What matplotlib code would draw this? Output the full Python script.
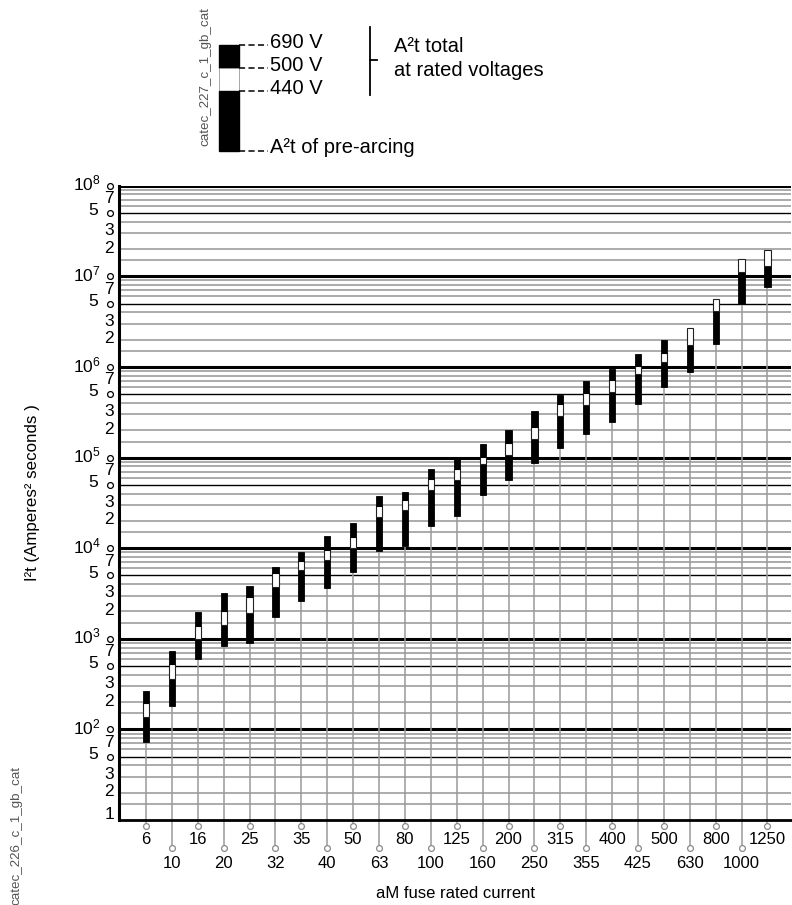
import numpy as np
import matplotlib.pyplot as plt
from matplotlib.patches import Rectangle
from matplotlib.transforms import blended_transform_factory

plt.rcParams['font.family'] = ['Liberation Sans', 'DejaVu Sans']
plt.rcParams['mathtext.fontset'] = 'custom'
plt.rcParams['mathtext.rm'] = 'Liberation Sans'
plt.rcParams['mathtext.default'] = 'regular'

# aM fuse ratings and I2t values (A2s)
ratings = ['6', '10', '16', '20', '25', '32', '35', '40', '50', '63', '80', '100', '125',
           '160', '200', '250', '315', '355', '400', '425', '500', '630', '800', '1000', '1250']
pre_arcing = [73, 181, 595, 840, 905, 1754, 2630, 3640, 5420, 9380, 10570, 17580, 22650,
              38650, 56600, 86500, 128500, 182000, 249000, 387000, 597000, 887000,
              1.796e6, 4.92e6, 7.64e6]
total_440v = [138, 363, 988, 1419, 1911, 3756, 5700, 7410, 9980, 22260, 26400, 43800, 56700,
              85000, 106800, 159300, 287800, 381000, 526000, 837000, 1.135e6, 1.75e6,
              4.19e6, 1.127e7, 1.31e7]
total_500v = [194, 527, 1384, 2027, 2915, 5360, 7270, 9550, 13400, 29400, 34050, 57600, 74300,
              102400, 146000, 216000, 390700, 513000, 719000, 1.026e6, 1.415e6, 2.67e6,
              5.68e6, 1.545e7, 1.94e7]
total_690v = [265, 739, 1990, 3177, 3855, 6150, 9150, 13740, 18840, 37950, 41400, 74800, 100700,
              141300, 201800, 329600, 487600, 700000, 957000, 1.39e6, 2.0e6,
              None, None, None, None]

decades = [10, 100, 1000, 1e4, 1e5, 1e6, 1e7, 1e8]
decade_labels = ['', '$10^2$', '$10^3$', '$10^4$', '$10^5$', '$10^6$', '$10^7$', '$10^8$']
minor_mult = [1.5, 2, 3, 4, 5, 6, 7, 8, 9]

W, H = 792, 905
fig = plt.figure(figsize=(W / 100, H / 100), dpi=100)
ax = fig.add_axes([118.7 / W, 1 - 820 / H, (791 - 118.7) / W, (820 - 185.7) / H])
ax.set_yscale('log')
ax.set_ylim(10, 1e8)
ax.set_xlim(-1.054, 24.91)
ax.set_xticks([])
ax.set_yticks([])
ax.minorticks_off()
for s in ['top', 'right']:
    ax.spines[s].set_visible(False)
ax.spines['left'].set_linewidth(2.2)
ax.spines['bottom'].set_linewidth(2.0)

# grid
for d in decades:
    if d > 10:
        ax.axhline(d, color='black', lw=2.2, zorder=1)
    if d < 1e8:
        for m in minor_mult:
            if m == 5:
                ax.axhline(d * m, color='black', lw=1.0, zorder=1)
            else:
                ax.axhline(d * m, color='#a5a5a5', lw=1.3, zorder=0.9)

# y labels and circles
ty = blended_transform_factory(ax.transAxes, ax.transData)
fs = 12.5
for d, lab in zip(decades, decade_labels):
    if d > 10:
        ax.plot(-0.0129, d, 'o', ms=4.2, mfc='white', mec='black', mew=0.9,
                transform=ty, clip_on=False, zorder=5)
        ax.text(-0.0263, d * 1.05, lab, transform=ty, ha='right', va='center', fontsize=fs)
    if d < 1e8:
        ax.plot(-0.0129, d * 5, 'o', ms=4.2, mfc='white', mec='black', mew=0.9,
                transform=ty, clip_on=False, zorder=5)
        ax.text(-0.030, d * 5.3, '5', transform=ty, ha='right', va='center', fontsize=fs)
        ax.text(-0.0144, d * 7.2, '7', transform=ty, ha='center', va='center', fontsize=fs)
        ax.text(-0.0144, d * 3.2, '3', transform=ty, ha='center', va='center', fontsize=fs)
        ax.text(-0.0144, d * 2.05, '2', transform=ty, ha='center', va='center', fontsize=fs)
ax.text(-0.0144, 11.5, '1', transform=ty, ha='center', va='center', fontsize=fs)

# bars
tx = blended_transform_factory(ax.transData, ax.transAxes)
x = np.arange(len(ratings))
bw = 0.24
for i in x:
    lo = i % 2 == 1
    cy = -0.0446 if lo else -0.009
    ly = -0.0683 if lo else -0.0315
    ax.plot([i, i], [0, cy], color='#9a9a9a', lw=1.1, transform=tx, clip_on=False, zorder=2)
    ax.plot(i, cy, 'o', ms=4.2, mfc='white', mec='#8a8a8a', mew=0.9, transform=tx,
            clip_on=False, zorder=5)
    ax.text(i, ly, ratings[i], transform=tx, ha='center', va='center', fontsize=12)
    ax.vlines(i, 10, pre_arcing[i], color='#9a9a9a', lw=1.1, zorder=2)
    ax.bar(i, total_440v[i] - pre_arcing[i], bottom=pre_arcing[i], width=bw,
           color='black', edgecolor='black', lw=0.6, zorder=3)
    ax.bar(i, total_500v[i] - total_440v[i], bottom=total_440v[i], width=bw,
           color='white', edgecolor='#222222', lw=0.8, zorder=3)
    if total_690v[i] is not None:
        ax.bar(i, total_690v[i] - total_500v[i], bottom=total_500v[i], width=bw,
               color='black', edgecolor='black', lw=0.6, zorder=3)

# axis titles
fig.text(455 / W, 1 - 893 / H, 'aM fuse rated current', ha='center', va='center', fontsize=12)
fig.text(33 / W, 1 - 493 / H, 'I²t (Amperes² seconds )', ha='center', va='center',
         rotation=90, fontsize=12.2)
fig.text(16 / W, 1 - 835 / H, 'catec_226_c_1_gb_cat', ha='center', va='center',
         rotation=90, fontsize=9.6, color='#555555')

# legend (pixel coordinates)
lg = fig.add_axes([0, 0, 1, 1], zorder=-1)
lg.set_xlim(0, W)
lg.set_ylim(H, 0)
lg.axis('off')
lg.add_patch(Rectangle((219, 45), 20, 23.3, color='black'))
lg.add_patch(Rectangle((219, 68.3), 20, 22.7, facecolor='white', edgecolor='#999999', lw=0.6))
lg.add_patch(Rectangle((219, 91), 20, 59.7, color='black'))
for yy, lab in [(45, '690 V'), (68.3, '500 V'), (91, '440 V'), (150.7, 'A²t of pre-arcing')]:
    lg.plot([239, 268], [yy, yy], color='black', lw=1.1, ls=(0, (4, 2.2)))
    lg.text(270, yy + 2.5, lab, ha='left', va='baseline', fontsize=14.5)
lg.plot([370, 370], [27, 95], color='black', lw=1.3)
lg.plot([370, 377], [60, 60], color='black', lw=1.3)
lg.text(394, 52, 'A²t total', ha='left', va='baseline', fontsize=14.5)
lg.text(394, 75.5, 'at rated voltages', ha='left', va='baseline', fontsize=14.5)
lg.text(205, 77, 'catec_227_c_1_gb_cat', ha='center', va='center', rotation=90,
        fontsize=9.6, color='#555555')

fig.savefig('out.png', dpi=100)
